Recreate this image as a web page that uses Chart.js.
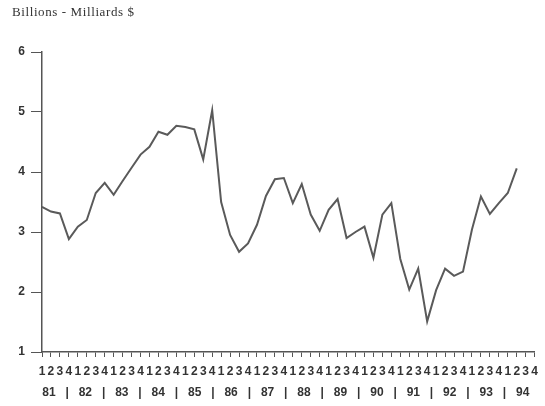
<!DOCTYPE html>
<html>
<head>
<meta charset="utf-8">
<script src="https://cdn.jsdelivr.net/npm/chart.js@4.4.0/dist/chart.umd.min.js"></script>
<style>
body { margin: 0; background: #fff; }
#wrap { position: relative; width: 545px; height: 406px; }
#title { position: absolute; left: 12px; top: 4px; font: 13px "Liberation Serif", "Times New Roman", serif; letter-spacing: 0.6px; color: #333; }
</style>
</head>
<body>
<div id="wrap">
  <div id="title">Billions - Milliards $</div>
  <canvas id="chart" width="545" height="406"></canvas>
</div>
<script>
// quarter labels, 1981 Q1 .. 1994 Q4
const quarters = [
  "1","2","3","4", "1","2","3","4", "1","2","3","4", "1","2","3","4",
  "1","2","3","4", "1","2","3","4", "1","2","3","4", "1","2","3","4",
  "1","2","3","4", "1","2","3","4", "1","2","3","4", "1","2","3","4",
  "1","2","3","4", "1","2","3","4"
];
const years = ["81","82","83","84","85","86","87","88","89","90","91","92","93","94"];

// billions of dollars
const values = [
  3.42, 3.34, 3.31, 2.88, 3.09, 3.20, 3.65, 3.82,
  3.62, 3.85, 4.07, 4.29, 4.42, 4.67, 4.62, 4.77,
  4.75, 4.71, 4.21, 5.03, 3.50, 2.95, 2.67, 2.81,
  3.12, 3.60, 3.88, 3.90, 3.48, 3.80, 3.29, 3.02,
  3.37, 3.55, 2.90, 3.00, 3.09, 2.57, 3.29, 3.48,
  2.55, 2.04, 2.39, 1.51, 2.03, 2.39, 2.27, 2.34,
  3.04, 3.59, 3.30, 3.48, 3.65, 4.06
];

const yTicks = [1, 2, 3, 4, 5, 6];

const tickFont = { family: "'Liberation Sans', Arial, sans-serif", size: 12, weight: "bold" };

new Chart(document.getElementById("chart"), {
  type: "line",
  data: {
    labels: quarters,
    datasets: [{
      data: values,
      borderColor: "#5a5a5a",
      borderWidth: 2,
      pointRadius: 0,
      tension: 0,
      fill: false
    }]
  },
  options: {
    responsive: false,
    animation: false,
    layout: { padding: { top: 52, right: 6, left: 0, bottom: 0 } },
    plugins: { legend: { display: false }, tooltip: { enabled: false } },
    scales: {
      x: {
        type: "category",
        position: "bottom",
        weight: 0,
        offset: false,
        border: { color: "#555", width: 1.5 },
        grid: { drawOnChartArea: false, tickLength: 5, color: "#555" },
        ticks: { autoSkip: false, maxRotation: 0, padding: 7, color: "#333", font: tickFont },
        afterFit: s => { s.height = 30; }
      },
      x2: {
        type: "linear",
        position: "bottom",
        weight: 1,
        min: -0.19,
        max: 13.33,
        border: { display: false },
        grid: { display: false, drawTicks: false },
        afterBuildTicks: s => {
          const t = [];
          years.forEach((y, i) => {
            t.push({ value: i });
            if (i < years.length - 1) t.push({ value: i + 0.5 });
          });
          s.ticks = t;
        },
        ticks: {
          autoSkip: false, maxRotation: 0, padding: 3, color: "#333", font: tickFont,
          callback: v => Number.isInteger(v) ? years[v] : "|"
        },
        afterFit: s => { s.height = 24; }
      },
      y: {
        min: 1,
        max: 6,
        afterBuildTicks: s => { s.ticks = yTicks.map(v => ({ value: v })); },
        border: { color: "#555", width: 1.5 },
        grid: { drawOnChartArea: false, tickLength: 11, color: "#555" },
        ticks: { padding: 6, color: "#333", font: tickFont },
        afterFit: s => { s.width = 42; }
      }
    }
  }
});
</script>
</body>
</html>
